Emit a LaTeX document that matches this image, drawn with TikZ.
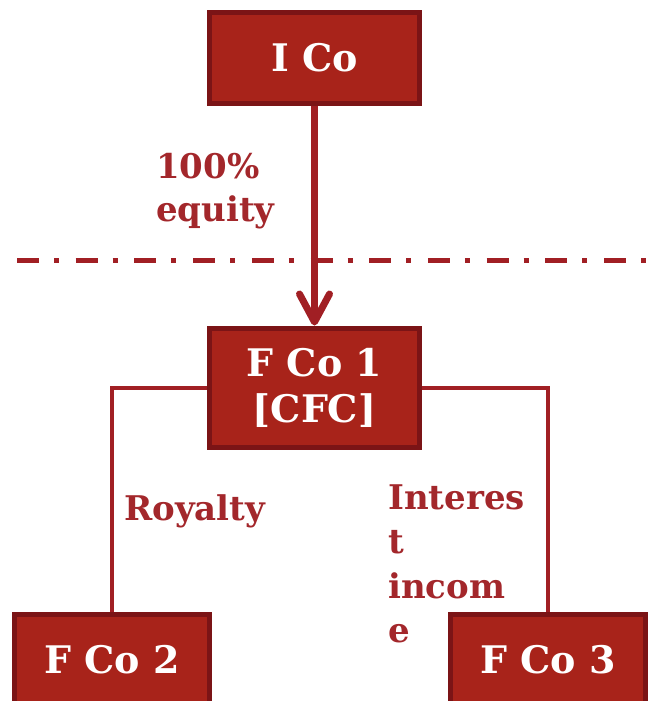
\documentclass[tikz,border=0pt]{standalone}
\usepackage{fontspec}
\setmainfont{DejaVu Serif}
\usetikzlibrary{arrows.meta}
\definecolor{boxfill}{HTML}{A8231A}
\definecolor{boxline}{HTML}{7B1416}
\definecolor{conn}{HTML}{A11F24}
\definecolor{lbl}{HTML}{A3272B}
\tikzset{
  entity/.style={draw=boxline, fill=boxfill, line width=5pt, text=white,
    font=\bfseries\fontsize{38}{46}\selectfont, align=center, inner sep=0pt},
  link/.style={draw=conn, line width=4pt},
  lbltext/.style={text=lbl, font=\bfseries\fontsize{34}{44}\selectfont, inner sep=0pt, anchor=base west},
}
\begin{document}
\begin{tikzpicture}[x=1pt,y=-1pt]
\useasboundingbox (0,0) rectangle (648,701);
\clip (0,0) rectangle (648,701);
% boxes
\node[entity, minimum width=210pt, minimum height=91pt] (ico) at (314.5,58) {I Co};
\node[entity, minimum width=210pt, minimum height=119pt] (fco1) at (314.5,387.5) {F Co 1\\{}[CFC]};
\node[entity, minimum width=195pt, minimum height=91pt] (fco2) at (112,660) {F Co 2};
\node[entity, minimum width=195pt, minimum height=91pt] (fco3) at (548,660) {F Co 3};
% dash-dot line
\coordinate (dl) at (17,260.5);
\coordinate (dr) at (648,260.5);
\draw[conn, line width=5pt, dash pattern=on 22pt off 15pt on 5pt off 16.7pt] (dl) -- (dr);
% arrow
\draw[conn, line width=7pt, -{Straight Barb[length=28pt, width=30pt, line cap=round, line join=round]}] (ico.south) -- (fco1.north);
% connectors
\draw[link] (fco1.west) -| (fco2.north);
\draw[link] (fco1.east) -| (fco3.north);
% labels
\node[lbltext] (l100) at (156,178) {100\%};
\node[lbltext] (leq) at (156,221) {equity};
\node[lbltext] (lroy) at (124,520) {Royalty};
\node[lbltext] (lint1) at (388,509) {Interes};
\node[lbltext] (lint2) at (388,553) {t};
\node[lbltext] (lint3) at (388,598) {incom};
\node[lbltext] (lint4) at (388,642) {e};
\end{tikzpicture}
\end{document}
